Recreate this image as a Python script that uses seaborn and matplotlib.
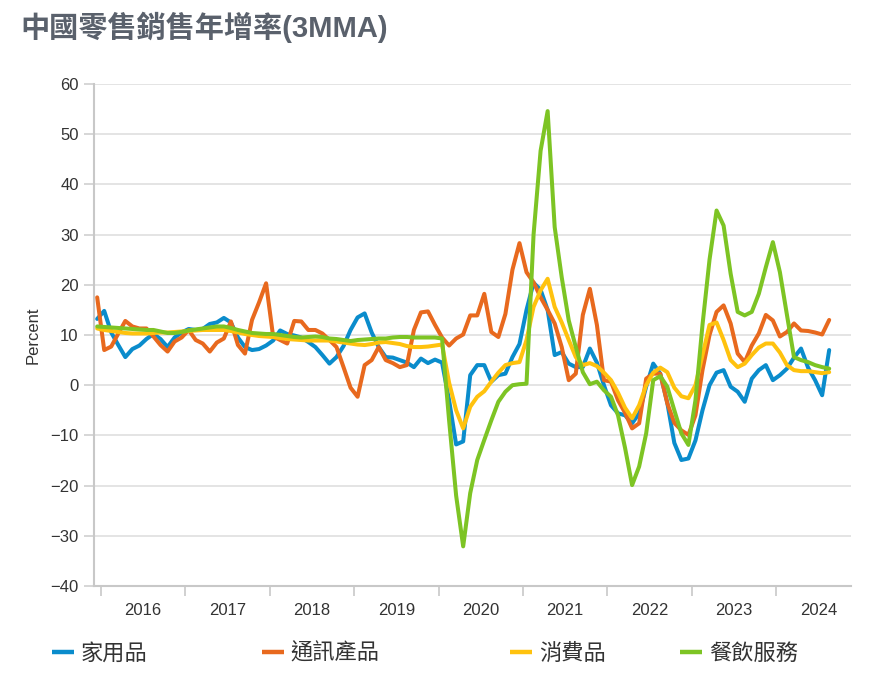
import pandas as pd
import numpy as np
import matplotlib
matplotlib.use("Agg")
import matplotlib.pyplot as plt
from matplotlib.lines import Line2D
from matplotlib.ticker import FixedLocator, NullFormatter
import seaborn as sns

# monthly 3MMA yoy growth, Dec 2015 .. Aug 2024
months = pd.period_range("2015-12", periods=105, freq="M")

home = [13.2,
        14.8, 10.5, 8, 5.6, 7.2, 7.9, 9.2, 10.2, 9.2, 7.6, 9.5, 10.5,
        11.2, 11, 11.2, 12.2, 12.5, 13.4, 12.5, 9.5, 7.6, 7, 7.2, 7.9,
        8.9, 10.9, 10.2, 9.9, 9.5, 8.6, 7.6, 6, 4.3, 5.6, 7.8, 11,
        13.5, 14.3, 10.5, 7.6, 5.6, 5.5, 5, 4.5, 3.6, 5.3, 4.4, 5.1,
        4.5, -3, -11.8, -11.2, 2, 4, 4, 0.7, 2, 2.3, 5.6, 8.2,
        15, 20.4, 19, 15, 6, 6.6, 4.3, 3.6, 3.6, 7.3, 4.5, 0,
        -4, -5.6, -6, -7.6, -5.6, -0.3, 4.3, 2.3, -3.5, -11.5, -14.9, -14.6,
        -11, -5, 0, 2.5, 3, -0.3, -1.3, -3.3, 1.3, 3, 4, 1,
        2, 3.3, 5.5, 7.3, 3.5, 1, -2, 7]

telecom = [17.5,
           7, 7.7, 10.3, 12.8, 11.7, 11.3, 11.3, 9.7, 8, 6.7, 8.7, 9.5,
           11, 9, 8.3, 6.7, 8.5, 9.3, 12.7, 8, 6.3, 13, 16.5, 20.3,
           9.7, 9, 8.3, 12.8, 12.7, 11, 11, 10.3, 9, 7.6, 3.6, -0.5,
           -2.3, 4, 5, 7.6, 5, 4.4, 3.6, 4, 11, 14.5, 14.7, 12,
           9.5, 7.9, 9.3, 10.1, 13.9, 13.9, 18.2, 10.6, 9.6, 14.2, 23, 28.3,
           22.5, 20.5, 17.5, 15, 12.3, 7.6, 1, 2.3, 14, 19.2, 12, 1,
           0.7, -3, -5.5, -8.6, -7.6, 1.3, 2.3, 2.3, -3.6, -7.5, -9, -9.9,
           -6, 3, 10, 14.6, 15.9, 12.3, 6.3, 4.6, 7.9, 10.3, 14, 12.9,
           9.7, 10.6, 12.3, 10.9, 10.8, 10.5, 10.1, 13]

consumer = [11.3,
            11, 10.8, 10.6, 10.4, 10.3, 10.3, 10.3, 10.4, 10.5, 10.5, 10.6, 10.7,
            10.8, 10.9, 11, 11, 11, 11, 10.8, 10.5, 10.2, 10, 9.8, 9.7,
            9.6, 9.4, 9.2, 9.1, 9, 8.9, 8.9, 8.9, 8.9, 8.7, 8.5, 8.3,
            8.1, 8, 8.2, 8.5, 8.6, 8.4, 8.2, 7.8, 7.6, 7.6, 7.7, 7.9,
            8.1, 0.5, -5, -8.6, -4.3, -2.3, -1.2, 0.7, 2.5, 4, 4.4, 4.6,
            9, 15.6, 18.9, 21.2, 15.6, 12.5, 9, 5.6, 4, 4.4, 3.8, 2.5,
            1, -1.5, -4.5, -6.6, -4, 0, 2.5, 3.5, 2.6, -0.5, -2.2, -2.6,
            0, 6, 12, 12.5, 9, 5, 3.6, 4.3, 6, 7.5, 8.3, 8.3,
            6.5, 4, 3, 2.8, 2.8, 2.6, 2.4, 2.6]

catering = [11.7,
            11.6, 11.5, 11.4, 11.3, 11.2, 11.1, 11, 11, 10.7, 10.4, 10.4, 10.6,
            10.9, 11.1, 11.3, 11.5, 11.7, 11.7, 11.4, 11, 10.7, 10.4, 10.3, 10.2,
            10.2, 10, 9.8, 9.6, 9.5, 9.6, 9.7, 9.6, 9.3, 9.2, 9, 8.8,
            9, 9.1, 9.2, 9.3, 9.3, 9.5, 9.6, 9.6, 9.5, 9.5, 9.5, 9.5,
            9.3, -7, -22, -32.1, -21.5, -14.9, -10.9, -7, -3.3, -1.3, 0, 0.2,
            0.3, 30, 46.7, 54.6, 31.5, 21.5, 12.9, 7.6, 2.6, 0.2, 0.7, -1,
            -2.3, -6, -12.5, -19.9, -16.2, -9.6, 1, 1.8, -0.3, -5, -9.6, -11.9,
            -3, 12, 25, 34.8, 31.8, 22.2, 14.6, 13.9, 14.6, 18.2, 23.5, 28.5,
            22.5, 14, 5.6, 5, 4.6, 4, 3.6, 3.3]

names = ["家用品", "通訊產品", "消費品", "餐飲服務"]
colors = ["#0a8ccc", "#e8691e", "#ffc20e", "#7dc424"]

df = pd.DataFrame({"k": np.arange(len(months)), "家用品": home, "通訊產品": telecom,
                   "消費品": consumer, "餐飲服務": catering})
long_df = df.melt(id_vars="k", var_name="series", value_name="value")

sns.set_theme(style="white")
plt.rcParams['font.family'] = ['Liberation Sans', 'Noto Sans CJK TC', 'DejaVu Sans']

fig = plt.figure(figsize=(8.77, 6.8), dpi=100)
ax = fig.add_axes([94 / 877, 1 - 586 / 680, (851 - 94) / 877, (586 - 84) / 680])

sns.lineplot(data=long_df, x="k", y="value", hue="series", hue_order=names,
             palette=colors, linewidth=2.9, errorbar=None, legend=False, ax=ax)

ax.set_ylim(-40, 60)
ax.set_xlim(-0.45, 107.1)
ax.set_yticks(np.arange(-40, 61, 10))
ax.yaxis.grid(True, color="#e2e2e2", linewidth=1.3)
ax.xaxis.grid(False)
ax.tick_params(axis="y", length=7, width=1.2, color="#d0d0d0", labelsize=12,
               labelcolor="#333333", pad=4, left=True)

# year ticks at january boundaries, labels centred within each year
jan = [i - 0.5 for i, m in enumerate(months) if m.month == 1]
ax.xaxis.set_major_locator(FixedLocator(jan))
ax.xaxis.set_major_formatter(NullFormatter())
ax.set_xticks([j + 6 for j in jan], [str(months[int(j + 0.5)].year) for j in jan], minor=True)
ax.tick_params(axis="x", which="major", length=7, width=1.2, color="#c8c8c8", bottom=True)
ax.tick_params(axis="x", which="minor", length=0, labelsize=12, labelcolor="#333333", pad=12)

for s in ["top", "right"]:
    ax.spines[s].set_visible(False)
for s in ["left", "bottom"]:
    ax.spines[s].set_color("#c8c8c8")
    ax.spines[s].set_linewidth(1.5)

ax.set_xlabel("")
ax.set_ylabel("Percent", fontsize=12, color="#333333", labelpad=7)

fig.text(20 / 877, 1 - 27 / 680, "中國零售銷售年增率(3MMA)", fontsize=21, fontweight="bold",
         color="#5a616c", va="center", ha="left")

leg_x = [52, 262, 510, 680]
for name, c, x in zip(names, colors, leg_x):
    h = Line2D([0], [0], color=c, linewidth=3.2, solid_capstyle="butt")
    fig.legend(handles=[h], labels=[name], loc="center left",
               bbox_to_anchor=(x / 877, 1 - 654 / 680), frameon=False,
               fontsize=16, handlelength=1.0, handletextpad=0.3,
               borderpad=0, borderaxespad=0, labelcolor="#333333")

fig.savefig("out.png", dpi=100)
